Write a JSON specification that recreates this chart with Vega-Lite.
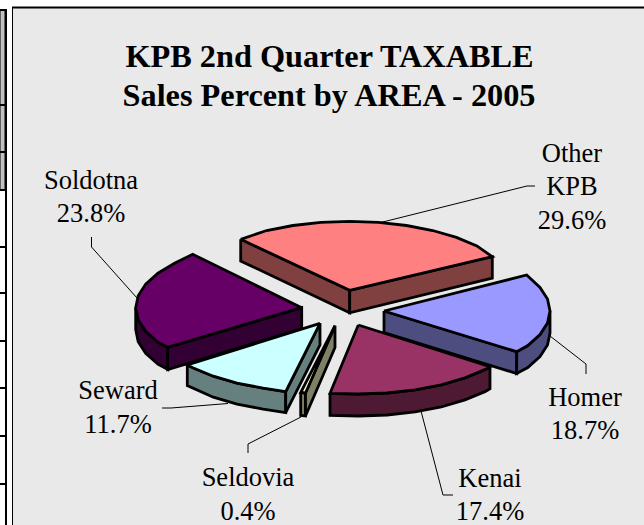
{"$schema":"https://vega.github.io/schema/vega-lite/v6.json","width":644,"height":525,"padding":0,"autosize":{"type":"none"},"background":"#ffffff","config":{"view":{"stroke":null}},"resolve":{"scale":{"fill":"independent"}},
"datasets":{
"panels":[{"name":"cellA","x":0,"x2":5,"y":10,"y2":105},{"name":"cellB","x":0,"x2":5,"y":105,"y2":152},{"name":"cellC","x":0,"x2":5,"y":152,"y2":190},{"name":"chart","x":12.5,"x2":650,"y":7.5,"y2":530}],
"rows":[{"y":10},{"y":105},{"y":152},{"y":190},{"y":247},{"y":293},{"y":341},{"y":388},{"y":436},{"y":484}],
"faces":[
{"p":"Other side","n":0,"x":240.7,"y":239.3},{"p":"Other side","n":1,"x":349.7,"y":290.3},{"p":"Other side","n":2,"x":349.7,"y":312.8},{"p":"Other side","n":3,"x":240.7,"y":261},{"p":"Other side","n":4,"x":240.7,"y":239.3},
{"p":"Other side 2","n":0,"x":349.7,"y":290.3},{"p":"Other side 2","n":1,"x":492.3,"y":256.7},{"p":"Other side 2","n":2,"x":492.3,"y":278.2},{"p":"Other side 2","n":3,"x":349.7,"y":312.8},{"p":"Other side 2","n":4,"x":349.7,"y":290.3},
{"p":"Other top","n":0,"x":240.7,"y":239.3},{"p":"Other top","n":1,"x":266.7,"y":230.5},{"p":"Other top","n":2,"x":292.9,"y":225.5},{"p":"Other top","n":3,"x":320.9,"y":222.3},{"p":"Other top","n":4,"x":349.7,"y":221.3},{"p":"Other top","n":5,"x":378.5,"y":222.3},{"p":"Other top","n":6,"x":406.5,"y":225.5},{"p":"Other top","n":7,"x":432.7,"y":230.5},{"p":"Other top","n":8,"x":456.4,"y":237.4},{"p":"Other top","n":9,"x":476.9,"y":245.9},{"p":"Other top","n":10,"x":492.3,"y":256.7},{"p":"Other top","n":11,"x":349.7,"y":290.3},{"p":"Other top","n":12,"x":240.7,"y":239.3},
{"p":"Homer side","n":0,"x":384,"y":311},{"p":"Homer side","n":1,"x":516.7,"y":351.7},{"p":"Homer side","n":2,"x":516.7,"y":373.5},{"p":"Homer side","n":3,"x":384,"y":332.5},{"p":"Homer side","n":4,"x":384,"y":311},
{"p":"Homer side 2","n":0,"x":516.7,"y":351.7},{"p":"Homer side 2","n":1,"x":527.8,"y":345.5},{"p":"Homer side 2","n":2,"x":540,"y":334.6},{"p":"Homer side 2","n":3,"x":547.5,"y":323},{"p":"Homer side 2","n":4,"x":550,"y":311},{"p":"Homer side 2","n":5,"x":550,"y":333},{"p":"Homer side 2","n":6,"x":547.5,"y":345},{"p":"Homer side 2","n":7,"x":540,"y":356.6},{"p":"Homer side 2","n":8,"x":527.8,"y":367.5},{"p":"Homer side 2","n":9,"x":516.7,"y":373.5},{"p":"Homer side 2","n":10,"x":516.7,"y":351.7},
{"p":"Homer top","n":0,"x":384,"y":311},{"p":"Homer top","n":1,"x":526.7,"y":275},{"p":"Homer top","n":2,"x":540,"y":287.4},{"p":"Homer top","n":3,"x":547.5,"y":299},{"p":"Homer top","n":4,"x":550,"y":311},{"p":"Homer top","n":5,"x":547.5,"y":323},{"p":"Homer top","n":6,"x":540,"y":334.6},{"p":"Homer top","n":7,"x":527.8,"y":345.5},{"p":"Homer top","n":8,"x":516.7,"y":351.7},{"p":"Homer top","n":9,"x":384,"y":311},
{"p":"Soldotna side","n":0,"x":135.7,"y":307.7},{"p":"Soldotna side","n":1,"x":138.2,"y":319.7},{"p":"Soldotna side","n":2,"x":145.7,"y":331.3},{"p":"Soldotna side","n":3,"x":157.9,"y":342.2},{"p":"Soldotna side","n":4,"x":167.7,"y":347.3},{"p":"Soldotna side","n":5,"x":167.7,"y":369.5},{"p":"Soldotna side","n":6,"x":157.9,"y":364.2},{"p":"Soldotna side","n":7,"x":145.7,"y":353.3},{"p":"Soldotna side","n":8,"x":138.2,"y":341.7},{"p":"Soldotna side","n":9,"x":135.7,"y":329.7},{"p":"Soldotna side","n":10,"x":135.7,"y":307.7},
{"p":"Soldotna side 2","n":0,"x":167.7,"y":347.3},{"p":"Soldotna side 2","n":1,"x":301.7,"y":307.7},{"p":"Soldotna side 2","n":2,"x":301.7,"y":328.5},{"p":"Soldotna side 2","n":3,"x":167.7,"y":369.5},{"p":"Soldotna side 2","n":4,"x":167.7,"y":347.3},
{"p":"Soldotna top","n":0,"x":301.7,"y":307.7},{"p":"Soldotna top","n":1,"x":192.7,"y":254.3},{"p":"Soldotna top","n":2,"x":174.5,"y":263.3},{"p":"Soldotna top","n":3,"x":157.9,"y":273.2},{"p":"Soldotna top","n":4,"x":145.7,"y":284.1},{"p":"Soldotna top","n":5,"x":138.2,"y":295.7},{"p":"Soldotna top","n":6,"x":135.7,"y":307.7},{"p":"Soldotna top","n":7,"x":138.2,"y":319.7},{"p":"Soldotna top","n":8,"x":145.7,"y":331.3},{"p":"Soldotna top","n":9,"x":157.9,"y":342.2},{"p":"Soldotna top","n":10,"x":167.7,"y":347.3},{"p":"Soldotna top","n":11,"x":301.7,"y":307.7},
{"p":"Seward side","n":0,"x":187.3,"y":365},{"p":"Seward side","n":1,"x":192.8,"y":367.7},{"p":"Seward side","n":2,"x":213.3,"y":376.2},{"p":"Seward side","n":3,"x":237,"y":383.1},{"p":"Seward side","n":4,"x":263.2,"y":388.1},{"p":"Seward side","n":5,"x":285.7,"y":391.7},{"p":"Seward side","n":6,"x":285.7,"y":412.7},{"p":"Seward side","n":7,"x":263.2,"y":409.1},{"p":"Seward side","n":8,"x":237,"y":404.1},{"p":"Seward side","n":9,"x":213.3,"y":397.2},{"p":"Seward side","n":10,"x":187.3,"y":385.5},{"p":"Seward side","n":11,"x":187.3,"y":365},
{"p":"Seward side 2","n":0,"x":285.7,"y":391.7},{"p":"Seward side 2","n":1,"x":320,"y":323.3},{"p":"Seward side 2","n":2,"x":320,"y":344.8},{"p":"Seward side 2","n":3,"x":285.7,"y":412.7},{"p":"Seward side 2","n":4,"x":285.7,"y":391.7},
{"p":"Seward top","n":0,"x":320,"y":323.3},{"p":"Seward top","n":1,"x":187.3,"y":365},{"p":"Seward top","n":2,"x":192.8,"y":367.7},{"p":"Seward top","n":3,"x":213.3,"y":376.2},{"p":"Seward top","n":4,"x":237,"y":383.1},{"p":"Seward top","n":5,"x":263.2,"y":388.1},{"p":"Seward top","n":6,"x":285.7,"y":391.7},{"p":"Seward top","n":7,"x":320,"y":323.3},
{"p":"Seldovia side","n":0,"x":300.7,"y":392.5},{"p":"Seldovia side","n":1,"x":305.5,"y":393},{"p":"Seldovia side","n":2,"x":305.5,"y":416},{"p":"Seldovia side","n":3,"x":300.7,"y":415.5},{"p":"Seldovia side","n":4,"x":300.7,"y":392.5},
{"p":"Seldovia side 2","n":0,"x":305.5,"y":393},{"p":"Seldovia side 2","n":1,"x":335,"y":325.7},{"p":"Seldovia side 2","n":2,"x":335,"y":347.5},{"p":"Seldovia side 2","n":3,"x":305.5,"y":416},{"p":"Seldovia side 2","n":4,"x":305.5,"y":393},
{"p":"Seldovia top","n":0,"x":335,"y":325.7},{"p":"Seldovia top","n":1,"x":300.7,"y":392.5},{"p":"Seldovia top","n":2,"x":305.5,"y":393},{"p":"Seldovia top","n":3,"x":335,"y":325.7},
{"p":"Kenai side","n":0,"x":330,"y":393.3},{"p":"Kenai side","n":1,"x":358.3,"y":394},{"p":"Kenai side","n":2,"x":387.1,"y":393},{"p":"Kenai side","n":3,"x":415.1,"y":389.8},{"p":"Kenai side","n":4,"x":441.3,"y":384.8},{"p":"Kenai side","n":5,"x":465,"y":377.9},{"p":"Kenai side","n":6,"x":485.5,"y":369.4},{"p":"Kenai side","n":7,"x":490,"y":366.7},{"p":"Kenai side","n":8,"x":490,"y":388.7},{"p":"Kenai side","n":9,"x":485.5,"y":391.4},{"p":"Kenai side","n":10,"x":465,"y":399.9},{"p":"Kenai side","n":11,"x":441.3,"y":406.8},{"p":"Kenai side","n":12,"x":415.1,"y":411.8},{"p":"Kenai side","n":13,"x":387.1,"y":415},{"p":"Kenai side","n":14,"x":358.3,"y":416},{"p":"Kenai side","n":15,"x":330,"y":415.3},{"p":"Kenai side","n":16,"x":330,"y":393.3},
{"p":"Kenai top","n":0,"x":358.3,"y":325},{"p":"Kenai top","n":1,"x":330,"y":393.3},{"p":"Kenai top","n":2,"x":358.3,"y":394},{"p":"Kenai top","n":3,"x":387.1,"y":393},{"p":"Kenai top","n":4,"x":415.1,"y":389.8},{"p":"Kenai top","n":5,"x":441.3,"y":384.8},{"p":"Kenai top","n":6,"x":465,"y":377.9},{"p":"Kenai top","n":7,"x":485.5,"y":369.4},{"p":"Kenai top","n":8,"x":490,"y":366.7},{"p":"Kenai top","n":9,"x":358.3,"y":325}
],
"leaders":[
{"k":"Other","n":0,"x":380,"y":222.7},{"k":"Other","n":1,"x":527,"y":186},{"k":"Other","n":2,"x":535,"y":186},
{"k":"Homer","n":0,"x":550,"y":336},{"k":"Homer","n":1,"x":586,"y":364},{"k":"Homer","n":2,"x":586,"y":374},
{"k":"Kenai","n":0,"x":421,"y":411},{"k":"Kenai","n":1,"x":443,"y":495},{"k":"Kenai","n":2,"x":453,"y":495},
{"k":"Seldovia","n":0,"x":301,"y":417},{"k":"Seldovia","n":1,"x":248,"y":444},{"k":"Seldovia","n":2,"x":248,"y":453},
{"k":"Seward","n":0,"x":228,"y":403.5},{"k":"Seward","n":1,"x":171,"y":408},{"k":"Seward","n":2,"x":162,"y":408},
{"k":"Soldotna","n":0,"x":137,"y":298},{"k":"Soldotna","n":1,"x":91.5,"y":247},{"k":"Soldotna","n":2,"x":91.5,"y":237}
],
"labels":[
{"t":"Other","x":572,"y":162},{"t":"KPB","x":572,"y":195},{"t":"29.6%","x":572,"y":229},
{"t":"Homer","x":585,"y":406},{"t":"18.7%","x":585,"y":439},
{"t":"Kenai","x":490,"y":487},{"t":"17.4%","x":490,"y":520},
{"t":"Seldovia","x":248,"y":486},{"t":"0.4%","x":248,"y":520},
{"t":"Seward","x":118,"y":399},{"t":"11.7%","x":118,"y":433},
{"t":"Soldotna","x":91,"y":189},{"t":"23.8%","x":91,"y":222}
],
"titles":[{"t":"KPB 2nd Quarter TAXABLE","x":329.5,"y":67},{"t":"Sales Percent by AREA - 2005","x":329,"y":106}]
},
"layer":[
{"data":{"name":"panels"},"mark":{"type":"rect","stroke":"#000000","strokeWidth":1},"encoding":{"x":{"field":"x","type":"quantitative","scale":{"domain":[0,644],"range":[0,644]},"axis":null},"x2":{"field":"x2"},"y":{"field":"y","type":"quantitative","scale":{"domain":[0,525],"range":[0,525]},"axis":null},"y2":{"field":"y2"},"fill":{"field":"name","type":"nominal","legend":null,"scale":{"domain":["cellA","cellB","cellC","chart"],"range":["#c0c0c0","#c0c0c0","#c0c0c0","#e9e9e9"]}}}},
{"data":{"name":"rows"},"mark":{"type":"rule","color":"#000000","strokeWidth":2},"encoding":{"x":{"datum":0,"type":"quantitative","scale":{"domain":[0,644],"range":[0,644]},"axis":null},"x2":{"datum":7},"y":{"field":"y","type":"quantitative","scale":{"domain":[0,525],"range":[0,525]},"axis":null}}},
{"data":{"values":[{"y":10,"y2":525}]},"mark":{"type":"rule","color":"#000000","strokeWidth":2},"encoding":{"x":{"datum":6,"type":"quantitative","scale":{"domain":[0,644],"range":[0,644]},"axis":null},"y":{"field":"y","type":"quantitative","scale":{"domain":[0,525],"range":[0,525]},"axis":null},"y2":{"field":"y2"}}},
{"data":{"values":[{"y":7.5}]},"mark":{"type":"rule","color":"#000000","strokeWidth":2},"encoding":{"x":{"datum":12,"type":"quantitative","scale":{"domain":[0,644],"range":[0,644]},"axis":null},"x2":{"datum":644},"y":{"field":"y","type":"quantitative","scale":{"domain":[0,525],"range":[0,525]},"axis":null}}},
{"data":{"name":"leaders"},"mark":{"type":"line","color":"#000000","strokeWidth":1},"encoding":{"x":{"field":"x","type":"quantitative","scale":{"domain":[0,644],"range":[0,644]},"axis":null},"y":{"field":"y","type":"quantitative","scale":{"domain":[0,525],"range":[0,525]},"axis":null},"detail":{"field":"k"},"order":{"field":"n"}}},
{"data":{"name":"faces"},"mark":{"type":"line","stroke":"#000000","strokeWidth":2.8,"strokeJoin":"miter"},"encoding":{"x":{"field":"x","type":"quantitative","scale":{"domain":[0,644],"range":[0,644]},"axis":null},"y":{"field":"y","type":"quantitative","scale":{"domain":[0,525],"range":[0,525]},"axis":null},"order":{"field":"n"},"fill":{"field":"p","type":"nominal","legend":null,"sort":null,"scale":{"domain":["Other side","Other side 2","Other top","Homer side","Homer side 2","Homer top","Soldotna side","Soldotna side 2","Soldotna top","Seward side","Seward side 2","Seward top","Seldovia side","Seldovia side 2","Seldovia top","Kenai side","Kenai top"],"range":["#804040","#804040","#ff8080","#4d4d80","#4d4d80","#9999ff","#330033","#330033","#660066","#668080","#668080","#ccffff","#808066","#808066","#ffffcc","#4d1933","#993366"]}}}},
{"data":{"name":"labels"},"mark":{"type":"text","font":"Liberation Serif","fontSize":26.5,"color":"#000000","align":"center","baseline":"alphabetic"},"encoding":{"x":{"field":"x","type":"quantitative","scale":{"domain":[0,644],"range":[0,644]},"axis":null},"y":{"field":"y","type":"quantitative","scale":{"domain":[0,525],"range":[0,525]},"axis":null},"text":{"field":"t"}}},
{"data":{"name":"titles"},"mark":{"type":"text","font":"Liberation Serif","fontSize":32.3,"fontWeight":"bold","color":"#000000","align":"center","baseline":"alphabetic"},"encoding":{"x":{"field":"x","type":"quantitative","scale":{"domain":[0,644],"range":[0,644]},"axis":null},"y":{"field":"y","type":"quantitative","scale":{"domain":[0,525],"range":[0,525]},"axis":null},"text":{"field":"t"}}}
]}
